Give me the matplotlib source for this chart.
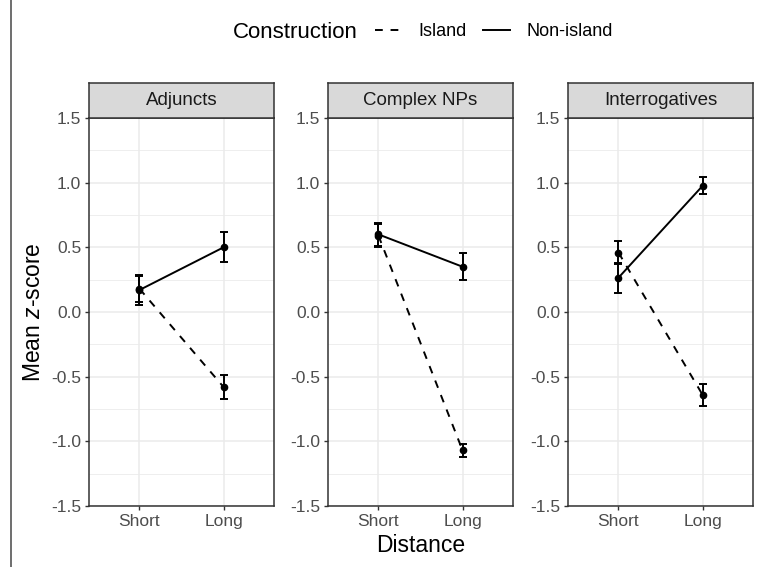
import numpy as np
import matplotlib
matplotlib.use("Agg")
import matplotlib.pyplot as plt
from matplotlib.lines import Line2D

plt.rcParams['font.family'] = ['Liberation Sans', 'DejaVu Sans']
plt.rcParams['mathtext.fontset'] = 'custom'
plt.rcParams['mathtext.rm'] = 'Liberation Sans'
plt.rcParams['mathtext.it'] = 'Liberation Sans:italic'

# data
constructions = ["Adjuncts", "Complex NPs", "Interrogatives"]
distance = ["Short", "Long"]
island_mean = [[0.18, -0.58], [0.59, -1.07], [0.46, -0.64]]
island_err = [[0.10, 0.095], [0.09, 0.05], [0.09, 0.085]]
nonisland_mean = [[0.17, 0.50], [0.60, 0.35], [0.265, 0.975]]
nonisland_err = [[0.115, 0.115], [0.09, 0.105], [0.115, 0.065]]
y_ticks = [-1.5, -1.0, -0.5, 0.0, 0.5, 1.0, 1.5]

W, H = 758, 567
fig = plt.figure(figsize=(W / 100, H / 100), dpi=100)

grey20 = '#333333'
grid_col = '#EBEBEB'
panel_left = [89, 328, 568]
panel_w = 185
top_px, bot_px, strip_top = 118, 506, 83

x = np.arange(len(distance))
for i, name in enumerate(constructions):
    ax = fig.add_axes([panel_left[i] / W, 1 - bot_px / H, panel_w / W, (bot_px - top_px) / H])
    ax.set_xlim(-0.6, 1.6)
    ax.set_ylim(-1.5, 1.5)
    ax.set_yticks(y_ticks)
    ax.set_yticklabels([f"{t:.1f}" for t in y_ticks])
    ax.set_yticks(np.arange(-1.25, 1.5, 0.5), minor=True)
    ax.set_xticks(x)
    ax.set_xticklabels(distance)
    ax.grid(True, which='major', color=grid_col, lw=1.1)
    ax.grid(True, which='minor', axis='y', color=grid_col, lw=0.6)
    ax.set_axisbelow(True)
    ax.tick_params(which='major', direction='out', length=3, width=1, color=grey20,
                   labelsize=12.5, labelcolor='#4D4D4D', pad=2.5)
    ax.tick_params(which='minor', length=0)
    for s in ax.spines.values():
        s.set_color(grey20)
        s.set_linewidth(1.1)

    ax.errorbar(x, island_mean[i], yerr=island_err[i], color='black', ls=(0, (4, 4)),
                lw=1.4, marker='o', ms=4.5, capsize=3, capthick=1.4, elinewidth=1.4)
    ax.errorbar(x, nonisland_mean[i], yerr=nonisland_err[i], color='black', ls='-',
                lw=1.4, marker='o', ms=4.5, capsize=3, capthick=1.4, elinewidth=1.4)

    # strip
    sax = fig.add_axes([panel_left[i] / W, 1 - top_px / H, panel_w / W, (top_px - strip_top) / H])
    sax.set_facecolor('#D9D9D9')
    sax.set_xticks([])
    sax.set_yticks([])
    for s in sax.spines.values():
        s.set_color(grey20)
        s.set_linewidth(1.1)
    sax.text(0.5, 0.5, name, ha='center', va='center', fontsize=13.5, color='#1A1A1A',
             transform=sax.transAxes)

fig.text(33 / W, 1 - 312 / H, "Mean $z$-score", rotation=90, ha='center', va='center', fontsize=16.5)
fig.text(421 / W, 1 - 545 / H, "Distance", ha='center', va='center', fontsize=16.5)

# legend
fig.text(233 / W, 1 - 32 / H, "Construction", ha='left', va='center', fontsize=16)
handles = [Line2D([], [], color='black', ls=(0, (4, 4)), lw=1.4),
           Line2D([], [], color='black', ls='-', lw=1.4)]
fig.legend(handles, ["Island", "Non-island"], ncol=2, frameon=False, fontsize=13,
           loc='center left', bbox_to_anchor=(368 / W, 1 - 32 / H),
           handlelength=1.5, handletextpad=0.9, columnspacing=0.9, borderaxespad=0)

# outer frame line at the left
fig.add_artist(Line2D([11 / W, 11 / W], [0, 1], color='#555555', lw=1.2, transform=fig.transFigure))

fig.savefig("out.png", dpi=100)
